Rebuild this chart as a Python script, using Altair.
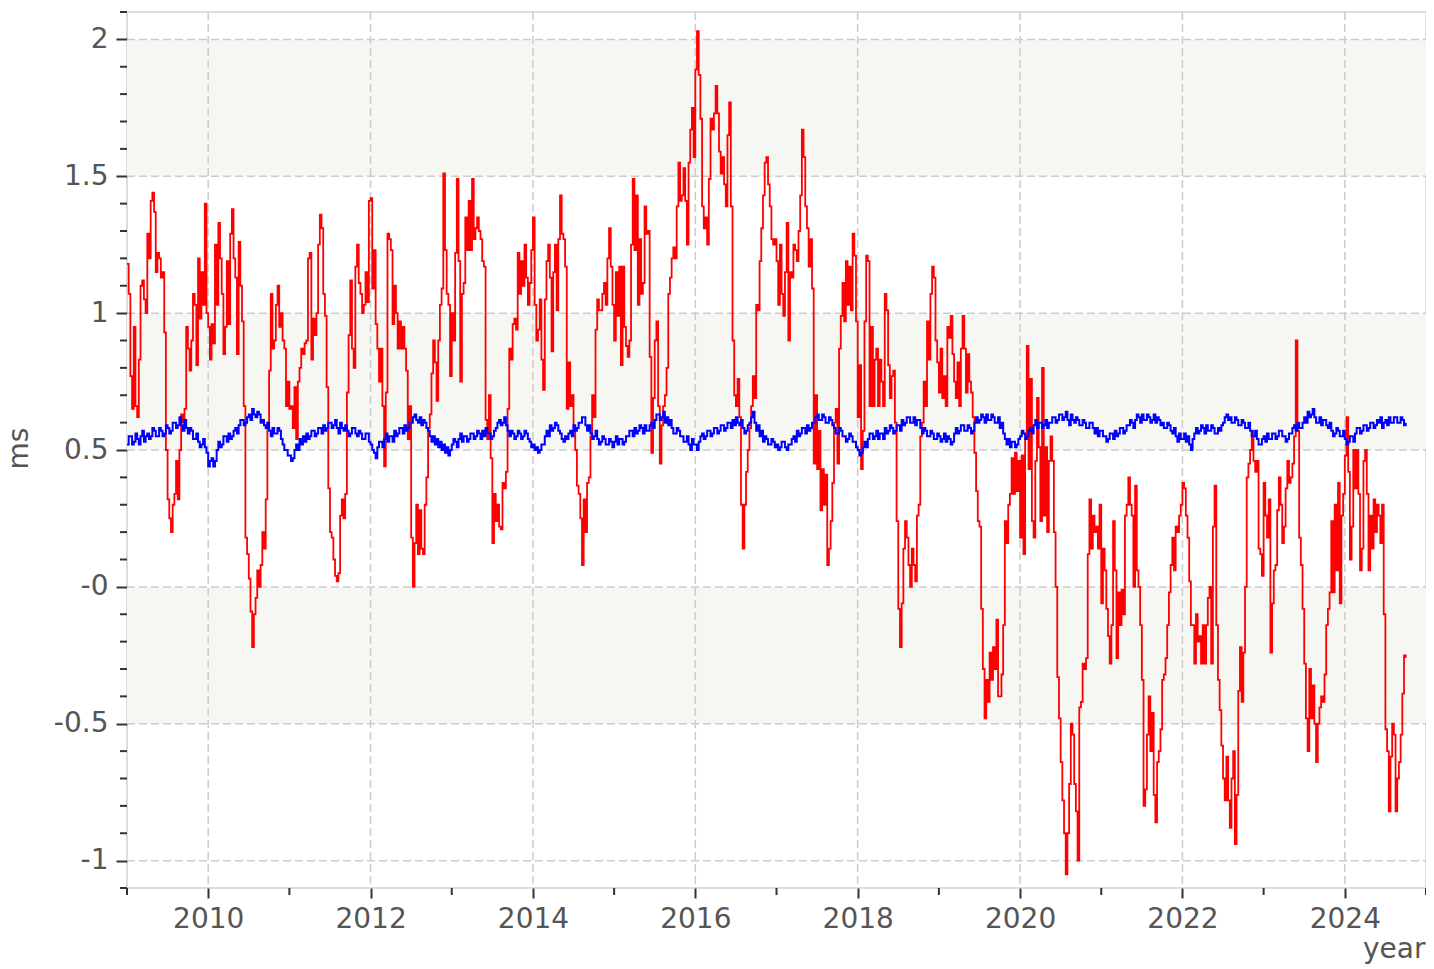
import altair as alt
import pandas as pd

START = 2009.0
STEP = 1 / 48  # weekly-ish sampling

red_2009 = [1.18,1.07,0.77,0.65,0.95,0.66,0.62,0.83,1.1,1.12,1.05,1.0,1.29,1.2,1.41,1.44,1.37,1.15,1.22,1.2,1.13,1.15,0.93,0.5,
            0.32,0.25,0.2,0.3,0.34,0.46,0.32,0.5,0.63,0.6,0.65,0.95,0.87,0.79,0.9,1.07,1.03,0.81,1.2,0.98,1.15,1.03,1.4,1.0]
red_2010 = [0.95,0.83,0.96,0.89,1.25,1.03,1.33,1.2,1.07,0.85,0.95,1.19,0.96,1.29,1.38,1.2,1.13,0.85,1.26,1.1,0.97,0.66,0.18,0.12,
            0.03,-0.09,-0.22,-0.1,-0.04,0.06,0.0,0.08,0.2,0.14,0.32,0.6,0.79,1.07,0.87,0.9,1.03,1.1,0.95,1.0,0.9,0.87,0.66,0.75]
red_2011 = [0.65,0.66,0.58,0.73,0.54,0.75,0.8,0.87,0.85,0.89,0.9,1.2,1.22,0.83,0.98,0.92,1.0,1.25,1.36,1.31,1.07,0.99,0.73,0.36,
            0.2,0.18,0.1,0.04,0.02,0.05,0.26,0.32,0.25,0.34,0.71,0.92,1.12,0.87,0.8,1.17,1.25,1.11,1.07,1.0,1.03,1.15,1.04,1.41]
red_2012 = [1.42,1.09,1.23,0.96,0.87,0.75,0.87,0.66,0.44,0.71,1.29,1.27,1.23,0.96,1.1,1.0,0.87,0.97,0.87,0.95,0.87,0.79,0.54,0.66,
            0.18,0.0,0.16,0.3,0.12,0.28,0.14,0.12,0.3,0.4,0.58,0.63,0.78,0.9,0.82,0.68,0.9,1.03,1.09,1.51,1.23,1.07,1.03,0.77]
red_2013 = [1.0,0.9,1.22,1.49,1.19,0.75,1.07,1.11,1.35,1.23,1.41,1.23,1.49,1.27,1.31,1.35,1.3,1.27,1.19,1.17,0.61,0.54,0.7,0.47,
            0.16,0.34,0.24,0.3,0.22,0.21,0.38,0.36,0.42,0.65,0.87,0.83,0.96,0.98,0.94,1.22,1.07,1.19,1.1,1.25,1.13,1.03,1.11,1.23]
red_2014 = [1.35,1.03,0.9,0.94,1.05,0.83,0.72,1.05,1.19,1.25,1.13,0.86,1.15,1.25,1.01,1.27,1.43,1.29,1.27,1.17,0.65,0.82,0.66,0.7,
            0.58,0.5,0.37,0.34,0.25,0.08,0.32,0.2,0.38,0.4,0.55,0.7,0.62,0.94,1.05,1.01,1.01,1.07,1.11,1.03,1.2,1.31,1.17,1.03]
red_2015 = [0.9,1.15,0.99,1.17,0.81,1.17,0.95,0.88,0.84,0.9,1.25,1.49,1.23,1.43,1.03,1.27,1.07,1.11,1.39,1.29,1.3,0.84,0.49,0.69,
            0.9,0.97,0.66,0.45,0.59,0.66,0.7,0.8,1.07,1.13,1.2,1.24,1.2,1.39,1.55,1.41,1.43,1.53,1.41,1.25,1.55,1.67,1.75,1.57]
red_2016 = [1.89,2.03,1.87,1.71,1.39,1.31,1.35,1.25,1.49,1.71,1.67,1.73,1.83,1.73,1.59,1.51,1.57,1.47,1.39,1.65,1.77,1.39,0.9,0.7,
            0.66,0.76,0.62,0.3,0.14,0.3,0.42,0.5,0.58,0.66,0.77,0.69,1.03,1.01,1.19,1.31,1.43,1.55,1.57,1.47,1.39,1.27,1.25,1.27]
red_2017 = [1.19,1.03,1.25,1.07,0.99,1.15,1.33,0.9,1.15,1.13,1.25,1.23,1.19,1.3,1.43,1.67,1.57,1.39,1.31,1.17,1.27,1.09,0.45,0.7,
            0.43,0.57,0.28,0.43,0.3,0.41,0.08,0.14,0.24,0.38,0.6,0.65,0.45,0.87,0.99,1.11,0.97,1.19,1.03,1.17,1.01,1.29,1.21,0.97]
red_2018 = [0.62,0.81,0.43,0.57,0.97,1.21,1.19,0.66,0.95,0.66,0.83,0.87,0.66,0.83,0.75,0.66,1.07,1.01,0.81,0.69,0.77,0.79,0.6,0.24,
            -0.08,-0.22,-0.06,0.14,0.24,0.18,0.08,0.0,0.14,0.08,0.02,0.26,0.3,0.55,0.6,0.75,0.66,0.97,0.83,1.07,1.17,1.13,0.9,0.82]
red_2019 = [0.71,0.87,0.69,0.77,0.66,0.95,0.91,0.99,0.85,0.75,0.69,0.82,0.66,0.87,0.99,0.87,0.71,0.85,0.75,0.71,0.62,0.49,0.35,0.24,
            0.22,-0.08,-0.3,-0.48,-0.34,-0.42,-0.24,-0.34,-0.22,-0.3,-0.12,-0.4,-0.4,-0.32,-0.14,0.24,0.16,0.3,0.34,0.47,0.34,0.49,0.35,0.46]
red_2020 = [0.18,0.48,0.12,0.54,0.88,0.43,0.76,0.24,0.18,0.46,0.69,0.51,0.24,0.8,0.26,0.51,0.2,0.46,0.55,0.46,0.2,0.0,-0.33,-0.48,
            -0.64,-0.78,-0.9,-1.05,-0.9,-0.72,-0.5,-0.54,-0.72,-0.82,-1.0,-0.44,-0.42,-0.28,-0.3,-0.26,0.12,0.32,0.14,0.26,0.2,0.22,0.14,0.3]
red_2021 = [-0.06,0.14,0.06,-0.08,-0.18,-0.28,-0.14,0.24,0.06,-0.26,-0.02,-0.14,-0.01,-0.1,0.26,0.3,0.4,0.3,0.26,0.0,0.37,0.06,0.0,-0.14,
            -0.34,-0.8,-0.74,-0.54,-0.4,-0.6,-0.46,-0.76,-0.86,-0.64,-0.6,-0.52,-0.34,-0.32,-0.26,-0.14,-0.02,0.08,0.18,0.06,0.22,0.2,0.26,0.3]
red_2022 = [0.38,0.36,0.26,0.18,0.02,-0.14,-0.14,-0.28,-0.1,-0.2,-0.18,-0.28,-0.14,-0.28,-0.14,-0.04,0.0,-0.28,0.22,0.37,-0.14,-0.34,-0.45,-0.58,
            -0.7,-0.78,-0.62,-0.78,-0.88,-0.7,-0.6,-0.94,-0.76,-0.38,-0.22,-0.42,-0.24,0.0,0.4,0.45,0.5,0.57,0.46,0.42,0.46,0.14,0.12,0.04]
red_2023 = [0.38,0.26,0.18,0.32,-0.24,-0.06,0.06,0.08,0.28,0.4,0.3,0.16,0.22,0.36,0.46,0.38,0.4,0.45,0.55,0.9,0.57,0.18,0.08,-0.08,
            -0.28,-0.48,-0.6,-0.3,-0.48,-0.36,-0.5,-0.64,-0.5,-0.44,-0.4,-0.42,-0.32,-0.14,-0.08,-0.02,0.24,-0.02,0.3,0.06,0.38,-0.06,0.26,0.34]
red_2024 = [0.48,0.62,0.42,0.1,0.22,0.5,0.36,0.5,0.34,0.06,0.14,0.46,0.5,0.34,0.06,0.26,0.14,0.32,0.2,0.3,0.26,0.16,0.3,-0.1,
            -0.52,-0.6,-0.82,-0.62,-0.5,-0.54,-0.82,-0.7,-0.64,-0.54,-0.39,-0.25,-0.26]

blue_2009 = [0.52,0.55,0.55,0.52,0.53,0.56,0.54,0.52,0.55,0.57,0.53,0.55,0.56,0.54,0.55,0.58,0.57,0.55,0.55,0.58,0.57,0.55,0.56,0.59,
             0.58,0.56,0.57,0.6,0.6,0.58,0.59,0.62,0.59,0.57,0.61,0.58,0.56,0.58,0.57,0.54,0.54,0.56,0.53,0.51,0.52,0.54,0.51,0.49]
blue_2010 = [0.44,0.46,0.47,0.44,0.46,0.5,0.53,0.51,0.52,0.55,0.55,0.53,0.56,0.54,0.55,0.57,0.58,0.56,0.59,0.61,0.61,0.59,0.6,0.62,
             0.63,0.61,0.65,0.63,0.62,0.64,0.63,0.6,0.61,0.59,0.58,0.6,0.57,0.55,0.58,0.56,0.56,0.58,0.57,0.54,0.52,0.5,0.5,0.48]
blue_2011 = [0.48,0.46,0.47,0.5,0.52,0.5,0.54,0.52,0.55,0.53,0.56,0.54,0.55,0.57,0.57,0.55,0.56,0.58,0.58,0.56,0.59,0.57,0.58,0.6,
             0.6,0.58,0.59,0.61,0.58,0.56,0.6,0.58,0.57,0.59,0.57,0.55,0.56,0.58,0.58,0.56,0.55,0.57,0.56,0.54,0.54,0.56,0.56,0.53]
blue_2012 = [0.52,0.5,0.49,0.47,0.51,0.53,0.53,0.51,0.54,0.56,0.53,0.55,0.55,0.53,0.57,0.55,0.56,0.58,0.58,0.56,0.59,0.57,0.58,0.6,
             0.6,0.62,0.63,0.61,0.6,0.62,0.59,0.61,0.6,0.58,0.57,0.55,0.53,0.55,0.52,0.54,0.51,0.53,0.5,0.52,0.49,0.51,0.48,0.5]
blue_2013 = [0.52,0.54,0.53,0.51,0.54,0.56,0.53,0.55,0.55,0.53,0.54,0.56,0.56,0.54,0.55,0.57,0.56,0.54,0.57,0.55,0.58,0.56,0.56,0.54,
             0.55,0.57,0.58,0.6,0.61,0.59,0.6,0.62,0.59,0.57,0.55,0.57,0.56,0.54,0.55,0.57,0.56,0.54,0.55,0.57,0.56,0.54,0.53,0.51]
blue_2014 = [0.52,0.5,0.51,0.49,0.5,0.52,0.52,0.55,0.57,0.55,0.59,0.57,0.58,0.6,0.59,0.57,0.56,0.54,0.53,0.55,0.54,0.56,0.57,0.55,
             0.59,0.57,0.58,0.6,0.6,0.62,0.62,0.59,0.57,0.59,0.56,0.54,0.55,0.57,0.54,0.52,0.53,0.55,0.54,0.52,0.52,0.54,0.53,0.51]
blue_2015 = [0.53,0.55,0.52,0.54,0.54,0.52,0.53,0.55,0.55,0.57,0.57,0.55,0.58,0.56,0.57,0.59,0.58,0.56,0.59,0.57,0.57,0.59,0.6,0.58,
             0.61,0.63,0.63,0.61,0.62,0.64,0.6,0.62,0.59,0.61,0.58,0.56,0.56,0.58,0.57,0.55,0.55,0.53,0.53,0.55,0.52,0.5,0.54,0.52]
blue_2016 = [0.52,0.5,0.53,0.55,0.56,0.54,0.55,0.57,0.57,0.55,0.56,0.58,0.58,0.56,0.57,0.59,0.59,0.57,0.58,0.6,0.6,0.58,0.61,0.59,
             0.62,0.6,0.59,0.61,0.58,0.56,0.57,0.59,0.6,0.62,0.64,0.6,0.57,0.59,0.55,0.57,0.53,0.55,0.54,0.52,0.52,0.54,0.53,0.51]
blue_2017 = [0.52,0.5,0.51,0.53,0.53,0.51,0.5,0.52,0.52,0.54,0.55,0.53,0.57,0.55,0.56,0.58,0.58,0.56,0.59,0.57,0.58,0.6,0.6,0.62,
             0.63,0.61,0.61,0.63,0.62,0.6,0.6,0.62,0.61,0.59,0.58,0.56,0.56,0.58,0.57,0.55,0.55,0.53,0.54,0.56,0.55,0.53,0.53,0.51]
blue_2018 = [0.5,0.48,0.49,0.51,0.53,0.51,0.54,0.56,0.56,0.54,0.55,0.57,0.54,0.56,0.56,0.54,0.58,0.56,0.57,0.59,0.58,0.56,0.57,0.59,
             0.59,0.57,0.61,0.59,0.6,0.62,0.62,0.6,0.6,0.62,0.59,0.61,0.61,0.58,0.56,0.58,0.57,0.55,0.55,0.57,0.56,0.54,0.54,0.56]
blue_2019 = [0.55,0.53,0.54,0.56,0.53,0.55,0.54,0.52,0.53,0.56,0.58,0.56,0.57,0.59,0.59,0.57,0.57,0.59,0.58,0.56,0.57,0.6,0.62,0.6,
             0.61,0.63,0.62,0.6,0.63,0.61,0.61,0.63,0.62,0.6,0.6,0.62,0.58,0.6,0.56,0.54,0.52,0.54,0.51,0.53,0.53,0.51,0.52,0.54]
blue_2020 = [0.55,0.57,0.56,0.54,0.55,0.57,0.58,0.56,0.59,0.61,0.58,0.6,0.6,0.58,0.59,0.61,0.58,0.6,0.6,0.62,0.62,0.6,0.61,0.63,
             0.63,0.61,0.62,0.64,0.61,0.59,0.63,0.61,0.6,0.62,0.61,0.59,0.59,0.61,0.6,0.58,0.58,0.6,0.6,0.58,0.56,0.58,0.55,0.57]
blue_2021 = [0.57,0.55,0.55,0.53,0.54,0.56,0.56,0.54,0.57,0.55,0.56,0.58,0.58,0.56,0.57,0.59,0.59,0.61,0.6,0.58,0.61,0.63,0.62,0.6,
             0.63,0.61,0.61,0.63,0.62,0.6,0.61,0.63,0.6,0.62,0.61,0.59,0.6,0.58,0.58,0.6,0.59,0.57,0.56,0.58,0.55,0.53,0.56,0.54]
blue_2022 = [0.54,0.56,0.53,0.55,0.52,0.5,0.54,0.56,0.58,0.56,0.57,0.59,0.58,0.56,0.59,0.57,0.57,0.59,0.58,0.56,0.56,0.58,0.57,0.59,
             0.6,0.62,0.63,0.61,0.62,0.6,0.6,0.62,0.61,0.59,0.59,0.61,0.6,0.58,0.58,0.6,0.57,0.55,0.55,0.57,0.54,0.52,0.52,0.54]
blue_2023 = [0.55,0.53,0.56,0.54,0.54,0.56,0.56,0.54,0.55,0.57,0.57,0.55,0.55,0.53,0.54,0.56,0.56,0.58,0.59,0.57,0.6,0.58,0.58,0.6,
             0.62,0.6,0.64,0.62,0.63,0.65,0.62,0.6,0.6,0.62,0.59,0.61,0.61,0.59,0.58,0.6,0.57,0.55,0.56,0.58,0.57,0.55,0.55,0.57]
blue_2024 = [0.54,0.52,0.53,0.55,0.55,0.53,0.56,0.58,0.58,0.56,0.57,0.59,0.59,0.57,0.58,0.6,0.6,0.58,0.59,0.61,0.6,0.62,0.58,0.6,
             0.61,0.59,0.62,0.6,0.6,0.62,0.62,0.6,0.6,0.62,0.61,0.59,0.6]

red_values = (red_2009 + red_2010 + red_2011 + red_2012 + red_2013 + red_2014 + red_2015 + red_2016
              + red_2017 + red_2018 + red_2019 + red_2020 + red_2021 + red_2022 + red_2023 + red_2024)
blue_values = (blue_2009 + blue_2010 + blue_2011 + blue_2012 + blue_2013 + blue_2014 + blue_2015 + blue_2016
               + blue_2017 + blue_2018 + blue_2019 + blue_2020 + blue_2021 + blue_2022 + blue_2023 + blue_2024)

band_lo = [1.5, 0.5, -0.5]
band_hi = [2.0, 1.0, 0.0]
y_major = [-1, -0.5, 0, 0.5, 1, 1.5, 2]
y_minor = [-1.1, -0.9, -0.8, -0.7, -0.6, -0.4, -0.3, -0.2, -0.1, 0.1, 0.2, 0.3, 0.4,
           0.6, 0.7, 0.8, 0.9, 1.1, 1.2, 1.3, 1.4, 1.6, 1.7, 1.8, 1.9, 2.1]
x_major = [2010, 2012, 2014, 2016, 2018, 2020, 2022, 2024]
x_minor = [2009, 2011, 2013, 2015, 2017, 2019, 2021, 2023, 2025]

red_df = pd.DataFrame({"year": [START + i * STEP for i in range(len(red_values))], "ms": red_values})
blue_df = pd.DataFrame({"year": [START + i * STEP for i in range(len(blue_values))], "ms": blue_values})
bands_df = pd.DataFrame({"lo": band_lo, "hi": band_hi})

W, H = 1299, 876
FONT = "DejaVu Sans"
TXT = "#555555"
TICK = "#333333"
GRID = "#cccccc"

xs = alt.Scale(domain=[2009, 2025], nice=False, zero=False)
ys = alt.Scale(domain=[-1.1, 2.1], nice=False, zero=False)

x_axis = alt.Axis(values=x_major, format="d", grid=False, domain=False, tickSize=10, tickWidth=2,
                  tickColor=TICK, labelFont=FONT, labelFontSize=28, labelColor=TXT, labelPadding=7,
                  labelFlush=False, labelOverlap=False, titleFont=FONT, titleFontSize=28, titleColor=TXT,
                  titleFontWeight="normal", titleAlign="right", titleAnchor="end", titleX=W - 1, titleY=69,
                  titleBaseline="alphabetic")
y_axis = alt.Axis(values=y_major, labelExpr="datum.value == 0 ? '-0' : '' + datum.value", grid=False,
                  domain=False, tickSize=11, tickWidth=2, tickColor=TICK, labelFont=FONT, labelFontSize=28,
                  labelColor=TXT, labelPadding=8, labelFlush=False, labelOverlap=False, titleFont=FONT,
                  titleFontSize=28, titleColor=TXT, titleFontWeight="normal", titleX=-100, titleY=436,
                  titleAlign="center", titleBaseline="alphabetic")


def X(field):
    return alt.X(field, scale=xs, axis=x_axis, title="year")


def Y(field):
    return alt.Y(field, scale=ys, axis=y_axis, title="ms")


band_layer = alt.Chart(bands_df).mark_rect(color="#f6f6f2").encode(
    x=alt.value(0), x2=alt.value(W), y=Y("hi:Q"), y2="lo:Q")

hgrid = alt.Chart(pd.DataFrame({"v": y_major})).mark_rule(color=GRID, strokeWidth=1.5, strokeDash=[8, 4]).encode(
    y=Y("v:Q"), x=alt.value(0), x2=alt.value(W))
vgrid = alt.Chart(pd.DataFrame({"v": x_major})).mark_rule(color=GRID, strokeWidth=1.5, strokeDash=[8, 4]).encode(
    x=X("v:Q"), y=alt.value(0), y2=alt.value(H))

yminor = alt.Chart(pd.DataFrame({"v": y_minor})).mark_rule(color=TICK, strokeWidth=2).encode(
    y=Y("v:Q"), x=alt.value(-7), x2=alt.value(0))
xminor = alt.Chart(pd.DataFrame({"v": x_minor})).mark_rule(color=TICK, strokeWidth=2).encode(
    x=X("v:Q"), y=alt.value(H), y2=alt.value(H + 7))

red = alt.Chart(red_df).mark_line(color="#ff0000", strokeWidth=1.8, interpolate="step-after").encode(
    x=X("year:Q"), y=Y("ms:Q"))
blue = alt.Chart(blue_df).mark_line(color="#0000ff", strokeWidth=2.0, interpolate="step-after").encode(
    x=X("year:Q"), y=Y("ms:Q"))

chart = alt.layer(band_layer, hgrid, vgrid, yminor, xminor, red, blue).properties(
    width=W, height=H,
    autosize=alt.AutoSizeParams(type="none"),
    padding={"left": 119, "top": 4, "right": 0, "bottom": 81},
).configure_view(stroke="#dddddd", strokeWidth=2)

chart.save("out.html", embed_options={"renderer": "svg", "actions": False})
